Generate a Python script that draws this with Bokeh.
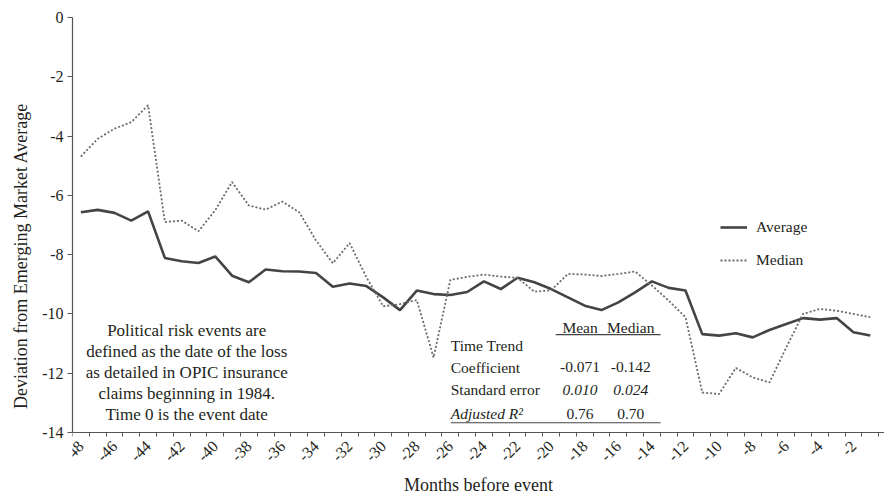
import math
from bokeh.plotting import figure
from bokeh.models import Range1d, FixedTicker, Label, Legend, LegendItem, ColumnDataSource
from bokeh.embed import file_html
from bokeh.resources import INLINE

# ---------------- data ----------------
months = list(range(-48, 0))
average = [-6.57, -6.49, -6.59, -6.85, -6.54, -8.11, -8.22, -8.28, -8.06, -8.71,
           -8.93, -8.50, -8.56, -8.57, -8.62, -9.08, -8.97, -9.06, -9.44, -9.87,
           -9.21, -9.33, -9.36, -9.26, -8.90, -9.16, -8.78, -8.93, -9.16, -9.44,
           -9.72, -9.87, -9.61, -9.27, -8.90, -9.12, -9.21, -10.68, -10.73, -10.65,
           -10.79, -10.54, -10.34, -10.14, -10.19, -10.14, -10.62, -10.73]
median = [-4.69, -4.09, -3.75, -3.53, -2.96, -6.90, -6.85, -7.21, -6.50, -5.55,
          -6.34, -6.48, -6.21, -6.57, -7.52, -8.29, -7.61, -8.76, -9.74, -9.67,
          -9.53, -11.47, -8.85, -8.75, -8.67, -8.74, -8.78, -9.25, -9.20, -8.65,
          -8.67, -8.72, -8.65, -8.57, -9.04, -9.55, -10.11, -12.65, -12.70, -11.82,
          -12.14, -12.31, -11.13, -10.00, -9.83, -9.89, -10.00, -10.11]
x_label_ticks = list(range(-48, 1, 2))
x_tick_labels = ["-48", "-46", "-44", "-42", "-40", "-38", "-36", "-34", "-32",
                 "-30", "-28", "-26", "-24", "-22", "-20", "-18", "-16", "-14",
                 "-12", "-10", "-8", "-6", "-4", "-2", "0"]
y_ticks = list(range(-14, 1, 2))
y_tick_labels = ["-14", "-12", "-10", "-8", "-6", "-4", "-2", "0"]
x_title = "Months before event"
y_title = "Deviation from Emerging Market Average"

note_lines = ["Political risk events are",
              "defined as the date of the loss",
              "as detailed in OPIC insurance",
              "claims beginning in 1984.",
              "Time 0 is the event date"]
table_header = ["Mean", "Median"]
table_rows = ["Time Trend", "Coefficient", "Standard error", "Adjusted R²"]
coef = ["-0.071", "-0.142"]
stderr = ["0.010", "0.024"]
adj_r2 = ["0.76", "0.70"]

FONT = "Liberation Serif"
TXT = "#231f20"
AX = "#555555"
Y_MIN, Y_MAX = -14, 0

# the frame extends below the x axis so that the axis title has room;
# the x axis is pinned at Y_MIN
p = figure(width=884, height=494,
           x_range=Range1d(-48.5, -0.15), y_range=Range1d(-16.09, Y_MAX),
           output_backend="svg", toolbar_location=None,
           min_border_left=72, min_border_right=0,
           min_border_top=17, min_border_bottom=0)
p.xgrid.visible = False
p.ygrid.visible = False
p.outline_line_color = None
p.background_fill_color = "white"

src = ColumnDataSource(dict(m=months, avg=average, med=median))
r_avg = p.line("m", "avg", source=src, line_color="#444444", line_width=2.6)
r_med = p.line("m", "med", source=src, line_color="#6a6a6a", line_width=1.8,
               line_dash="2 2")

# axes
xa = p.xaxis[0]
xa.fixed_location = Y_MIN
xa.bounds = (-48.5, 0.5)
xa.ticker = FixedTicker(ticks=x_label_ticks,
                        minor_ticks=[m + 0.5 for m in range(-49, 0)])
xa.major_label_overrides = dict(zip(x_label_ticks, x_tick_labels))
xa.major_tick_in = 0
xa.major_tick_out = 0
xa.minor_tick_in = 0
xa.minor_tick_out = 4
xa.minor_tick_line_color = AX
xa.axis_line_color = AX
xa.axis_line_width = 1.2
xa.major_label_orientation = math.pi / 4
xa.major_label_standoff = 7
xa.major_label_text_font = FONT
xa.major_label_text_font_size = "16px"
xa.major_label_text_color = TXT
xa.axis_label = x_title
xa.axis_label_text_font = FONT
xa.axis_label_text_font_style = "normal"
xa.axis_label_text_font_size = "18px"
xa.axis_label_text_color = TXT
xa.axis_label_standoff = 6

ya = p.yaxis[0]
ya.bounds = (Y_MIN, Y_MAX)
ya.ticker = FixedTicker(ticks=y_ticks)
ya.major_label_overrides = dict(zip(y_ticks, y_tick_labels))
ya.major_tick_in = 0
ya.major_tick_out = 5
ya.major_tick_line_color = AX
ya.minor_tick_line_color = None
ya.axis_line_color = AX
ya.axis_line_width = 1.2
ya.major_label_standoff = 4
ya.major_label_text_font = FONT
ya.major_label_text_font_size = "16px"
ya.major_label_text_color = TXT
ya.axis_label = y_title
ya.axis_label_text_font = FONT
ya.axis_label_text_font_style = "normal"
ya.axis_label_text_font_size = "18px"
ya.axis_label_text_color = TXT
ya.axis_label_standoff = 8

# legend
legend = Legend(items=[LegendItem(label="Average", renderers=[r_avg]),
                       LegendItem(label="Median", renderers=[r_med])],
                location=(648, 224), margin=0, padding=0, spacing=13,
                glyph_width=27, glyph_height=20, label_standoff=9,
                label_text_font=FONT, label_text_font_size="15.5px",
                label_text_color=TXT, border_line_color=None,
                background_fill_alpha=0)
p.add_layout(legend)

# note text block (positions in data units of the plot)
note_x = -41.7
note_y0 = -10.56
note_dy = -0.71
for i, line in enumerate(note_lines):
    p.add_layout(Label(x=note_x, y=note_y0 + i * note_dy, text=line,
                       text_font=FONT, text_font_size="17px", text_color=TXT,
                       text_align="center", text_baseline="middle"))

# regression table
col_left = -25.98
col_mean = -18.28
col_med = -15.26
row_y = [-11.07, -11.80, -12.56, -13.37]
head_y = -10.46
for txt, cx in zip(table_header, [col_mean, col_med]):
    p.add_layout(Label(x=cx, y=head_y, text=txt, text_font=FONT,
                       text_font_size="15.5px", text_color=TXT,
                       text_align="center", text_baseline="middle"))
for i, txt in enumerate(table_rows):
    p.add_layout(Label(x=col_left, y=row_y[i], text=txt, text_font=FONT,
                       text_font_size="15.5px", text_color=TXT,
                       text_font_style="italic" if i == 3 else "normal",
                       text_align="left", text_baseline="middle"))
for vals, ry, style in [(coef, row_y[1], "normal"), (stderr, row_y[2], "italic"),
                        (adj_r2, row_y[3], "normal")]:
    for v, cx in zip(vals, [col_mean, col_med]):
        p.add_layout(Label(x=cx, y=ry, text=v, text_font=FONT,
                           text_font_size="15.5px", text_color=TXT,
                           text_font_style=style,
                           text_align="center", text_baseline="middle"))
p.segment(x0=[-19.73, col_left], y0=[-10.70, -13.67],
          x1=[-13.48, -13.48], y1=[-10.70, -13.67],
          line_color="#444444", line_width=1.2)

open("out.html", "w").write(file_html(p, INLINE))
